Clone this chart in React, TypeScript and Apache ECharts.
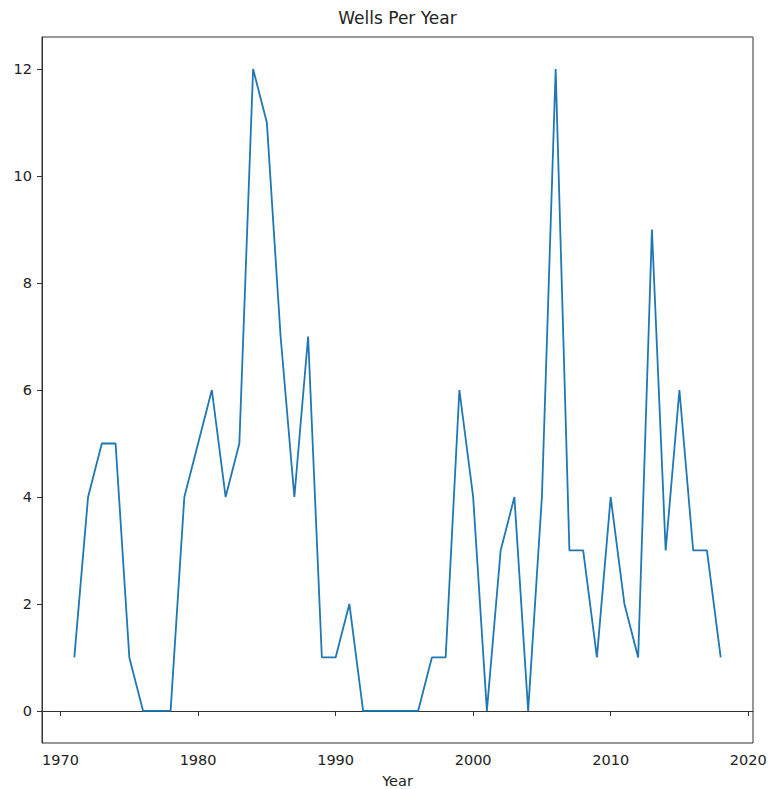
import React, { useEffect, useRef } from "react";
import * as echarts from "echarts";

const years: number[] = [
  1971, 1972, 1973, 1974, 1975, 1976, 1977, 1978, 1979, 1980,
  1981, 1982, 1983, 1984, 1985, 1986, 1987, 1988, 1989, 1990,
  1991, 1992, 1993, 1994, 1995, 1996, 1997, 1998, 1999, 2000,
  2001, 2002, 2003, 2004, 2005, 2006, 2007, 2008, 2009, 2010,
  2011, 2012, 2013, 2014, 2015, 2016, 2017, 2018,
];
const wells: number[] = [
  1, 4, 5, 5, 1, 0, 0, 0, 4, 5,
  6, 4, 5, 12, 11, 7, 4, 7, 1, 1,
  2, 0, 0, 0, 0, 0, 1, 1, 6, 4,
  0, 3, 4, 0, 4, 12, 3, 3, 1, 4,
  2, 1, 9, 3, 6, 3, 3, 1,
];
const xTicks: number[] = [1970, 1980, 1990, 2000, 2010, 2020];
const yTicks: number[] = [0, 2, 4, 6, 8, 10, 12];

export default function App() {
  const ref = useRef<HTMLDivElement>(null);
  useEffect(() => {
    if (!ref.current) return;
    const chart = echarts.init(ref.current, null, { renderer: "svg" });
    const font = "'DejaVu Sans', sans-serif";
    const textColor = "#222";
    chart.setOption({
      animation: false,
      backgroundColor: "#fff",
      title: {
        text: "Wells Per Year",
        left: 397.5,
        top: 9,
        padding: 0,
        textAlign: "center",
        textStyle: { fontFamily: font, fontSize: 17, fontWeight: "normal", color: textColor },
      },
      grid: {
        left: 42,
        right: 17,
        top: 37,
        bottom: 46,
        show: true,
        borderColor: "#333",
        borderWidth: 1,
        backgroundColor: "transparent",
        outerBoundsMode: "none",
      },
      xAxis: {
        type: "value",
        min: 1968.65,
        max: 2020.35,
        name: "Year",
        nameLocation: "middle",
        nameGap: 30,
        nameTextStyle: { fontFamily: font, fontSize: 14.5, color: textColor },
        axisLine: { show: true, lineStyle: { color: "#333", width: 1 } },
        axisTick: { show: true, length: 5, lineStyle: { color: "#333" }, customValues: xTicks },
        axisLabel: {
          fontFamily: font,
          fontSize: 14.5,
          color: textColor,
          margin: 9,
          customValues: xTicks,
          formatter: (v: number) => String(v),
        },
        splitLine: { show: false },
      },
      yAxis: {
        type: "value",
        min: -0.6,
        max: 12.6,
        axisLine: { show: true, lineStyle: { color: "#333", width: 1 } },
        axisTick: { show: true, length: 5, lineStyle: { color: "#333" }, customValues: yTicks },
        axisLabel: {
          fontFamily: font,
          fontSize: 14.5,
          color: textColor,
          margin: 10,
          customValues: yTicks,
          formatter: (v: number) => String(v),
        },
        splitLine: { show: false },
      },
      series: [
        {
          type: "line",
          data: years.map((y, i) => [y, wells[i]]),
          showSymbol: false,
          symbol: "none",
          lineStyle: { color: "#1f77b4", width: 1.8 },
          itemStyle: { color: "#1f77b4" },
        },
      ],
    });
    return () => chart.dispose();
  }, []);
  return (
    <div
      ref={ref}
      style={{ position: "fixed", left: 0, top: 0, width: 770, height: 789 }}
    />
  );
}
